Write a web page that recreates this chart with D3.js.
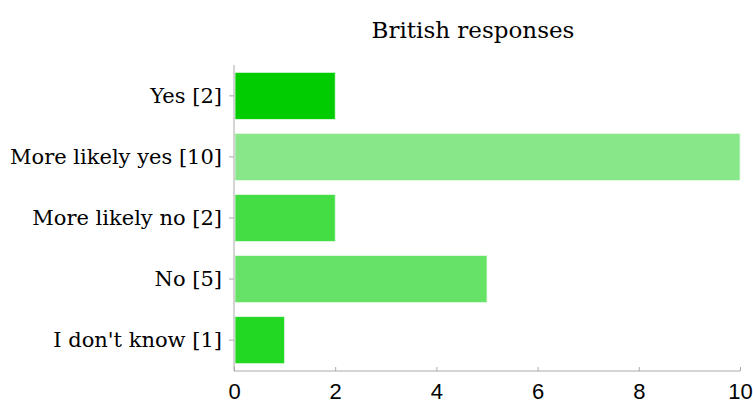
<!DOCTYPE html>
<html><head><meta charset="utf-8">
<script src="https://cdn.jsdelivr.net/npm/d3@7"></script>
<style>body{margin:0;background:#fff}</style>
</head><body>
<svg id="c" width="753" height="403"></svg>
<script>
const categories = ["Yes", "More likely yes", "More likely no", "No", "I don't know"];
const values = [2, 10, 2, 5, 1];
const colors = ["#00cc00", "#88e788", "#44dd44", "#66e266", "#22d822"];
const xTicks = [0, 2, 4, 6, 8, 10];
const title = "British responses";

const svg = d3.select("#c");
const m = {left: 234, right: 13, top: 65, bottom: 32};
const W = 753, H = 403;
const x = d3.scaleLinear().domain([0, 10]).range([m.left, W - m.right]);
const y = d3.scaleBand().domain(categories).range([m.top, H - m.bottom]).paddingInner(0.23).paddingOuter(0.12);

svg.append("text").attr("x", 473).attr("y", 38).attr("text-anchor", "middle")
  .attr("font-family", "DejaVu Serif, serif").attr("font-size", 23).attr("fill", "#000").text(title);

svg.selectAll("rect.bar").data(values).enter().append("rect").attr("class", "bar")
  .attr("x", x(0) + 1).attr("y", (d, i) => y(categories[i]))
  .attr("width", d => x(d) - x(0) - 1).attr("height", y.bandwidth())
  .attr("fill", (d, i) => colors[i]).attr("stroke", "#e6f8e6").attr("stroke-width", 0.8);

const yAxis = svg.append("g").attr("transform", `translate(${x(0)},0)`)
  .call(d3.axisLeft(y).tickSize(5).tickFormat((d, i) => `${d} [${values[i]}]`));
yAxis.select(".domain").attr("stroke", "#aaa").attr("d", `M0,${m.top}V${H - m.bottom}`);
yAxis.selectAll(".tick line").attr("stroke", "#aaa");
yAxis.selectAll(".tick text").attr("font-family", "DejaVu Serif, serif").attr("font-size", 21).attr("fill", "#000").attr("x", -12);

const xAxis = svg.append("g").attr("transform", `translate(0,${H - m.bottom})`)
  .call(d3.axisBottom(x).tickValues(xTicks).tickSize(-4).tickFormat(d3.format("d")));
xAxis.select(".domain").attr("stroke", "#aaa").attr("d", `M${x(0)},0H${x(10)}`);
xAxis.selectAll(".tick line").attr("stroke", "#aaa");
xAxis.selectAll(".tick text").attr("font-family", "Liberation Sans, Arial, sans-serif").attr("font-size", 22).attr("fill", "#000").attr("dy", null).attr("y", 28);
</script>
</body></html>
